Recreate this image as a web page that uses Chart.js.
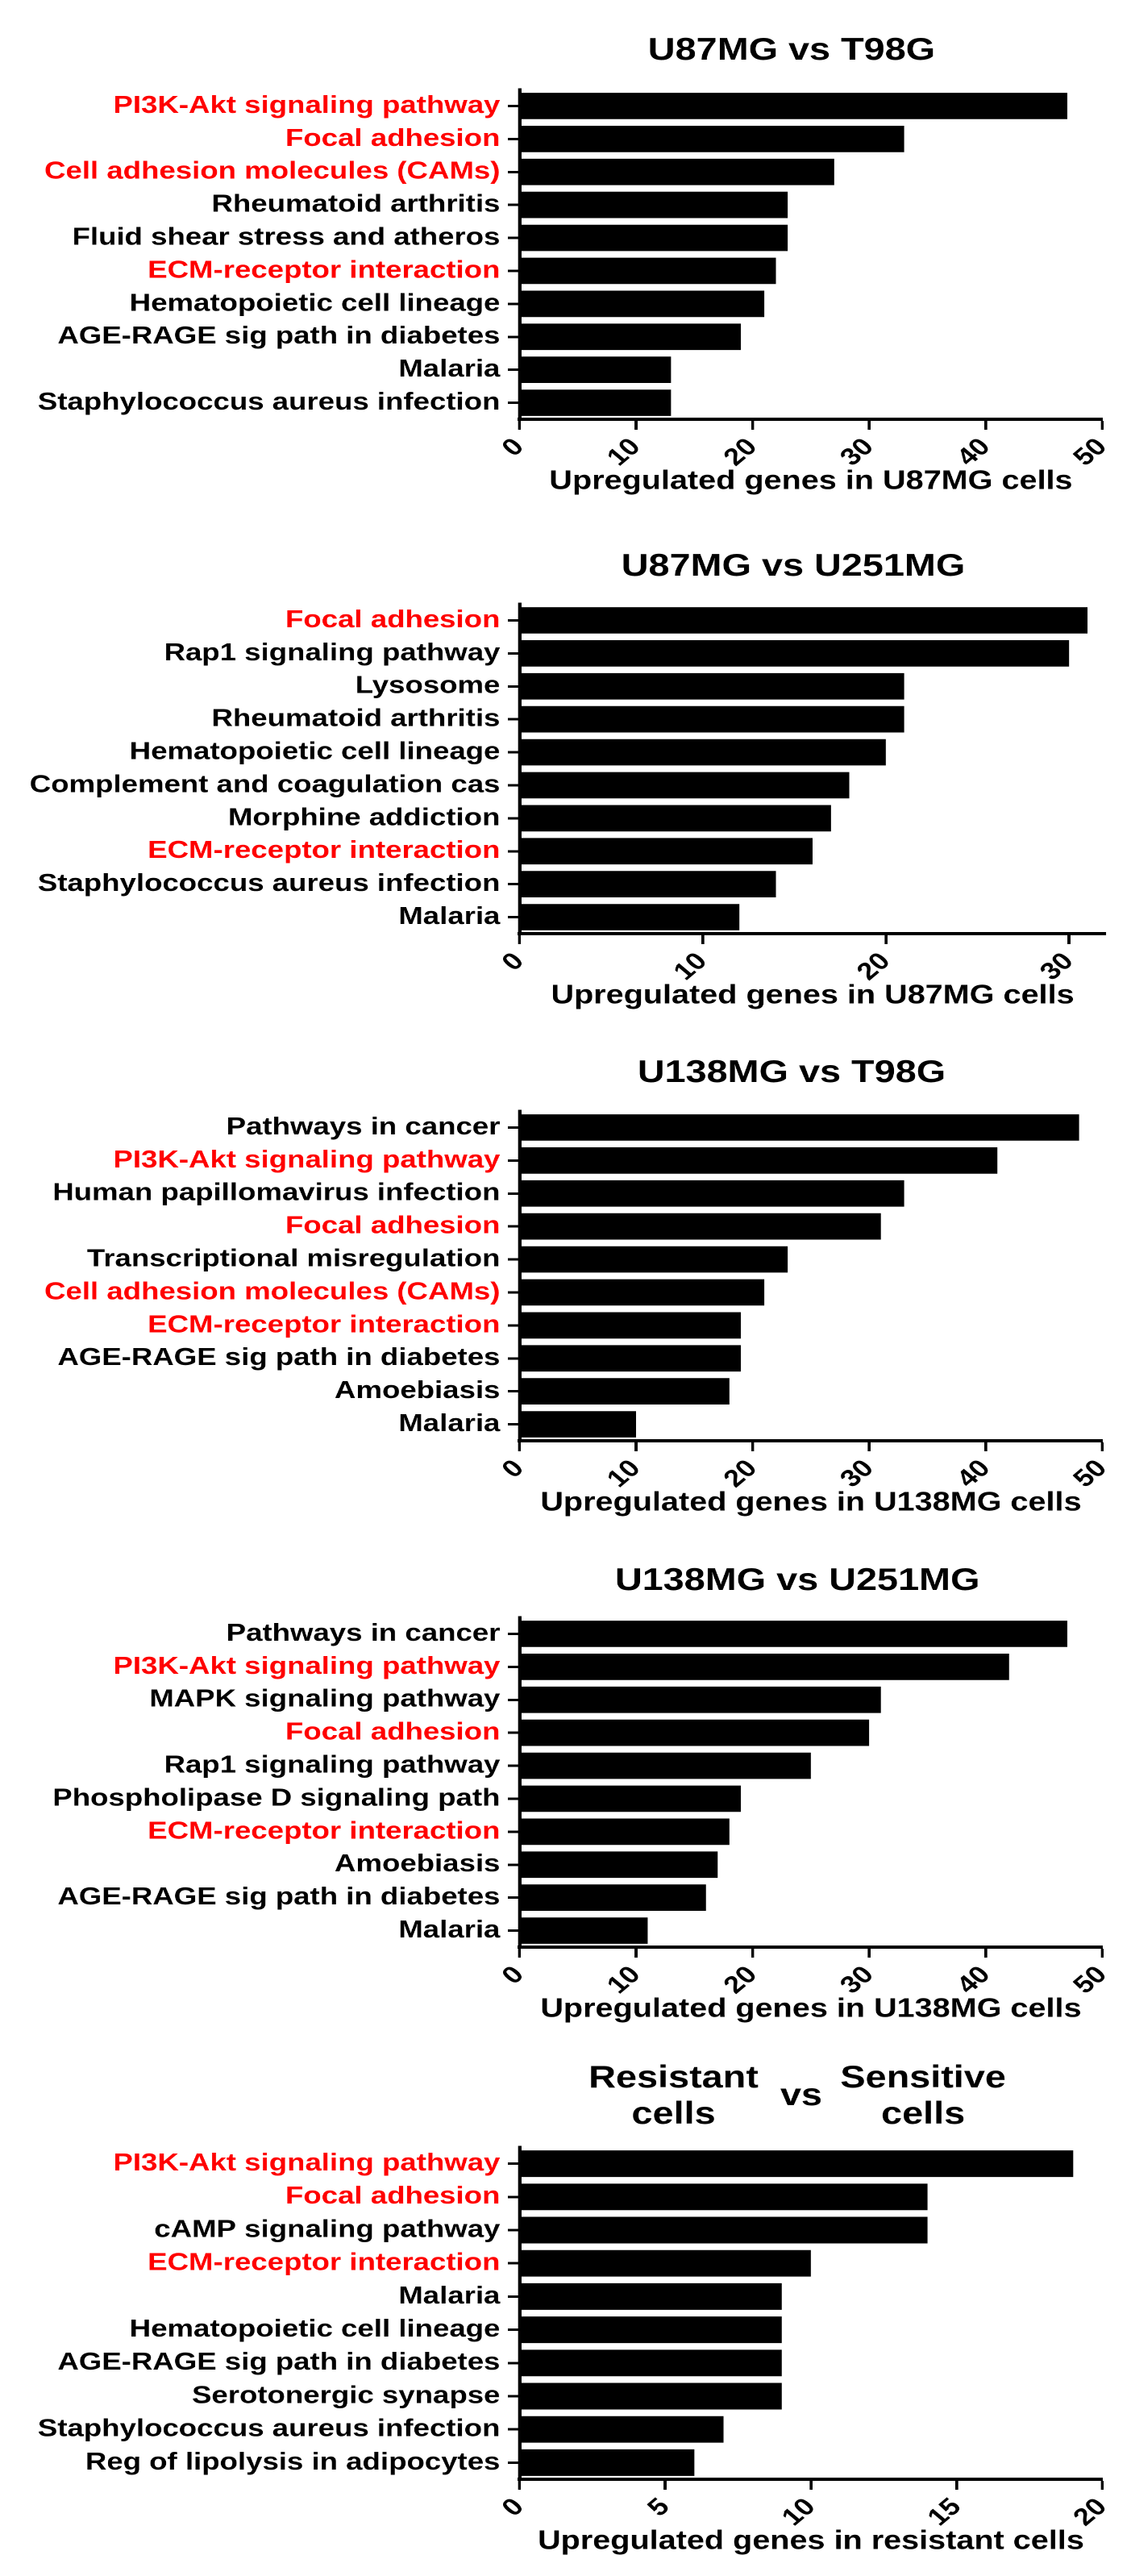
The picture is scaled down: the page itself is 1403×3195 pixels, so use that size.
<!DOCTYPE html>
<html>
<head>
<meta charset="utf-8">
<script src="https://cdn.jsdelivr.net/npm/chart.js@4.4.1/dist/chart.umd.min.js"></script>
<style>
  html, body { margin: 0; padding: 0; background: #fff; }
  body { position: relative; width: 1403px; height: 3195px; overflow: hidden; }
  .panel {
    position: absolute; left: 0; width: 1169px;
    transform: scaleX(1.2); transform-origin: 0 0;
  }
</style>
</head>
<body>
<div class="panel" style="top:0px;height:640px"><canvas id="c1"></canvas></div>
<div class="panel" style="top:638px;height:640px"><canvas id="c2"></canvas></div>
<div class="panel" style="top:1267px;height:640px"><canvas id="c3"></canvas></div>
<div class="panel" style="top:1895px;height:640px"><canvas id="c4"></canvas></div>
<div class="panel" style="top:2552px;height:643px"><canvas id="c5"></canvas></div>
<script>
'use strict';

// Pathways highlighted in red on every panel
const highlighted = [
  'PI3K-Akt signaling pathway',
  'Focal adhesion',
  'Cell adhesion molecules (CAMs)',
  'ECM-receptor interaction'
];

// U87MG vs T98G
const labels1 = ['PI3K-Akt signaling pathway', 'Focal adhesion', 'Cell adhesion molecules (CAMs)',
  'Rheumatoid arthritis', 'Fluid shear stress and atheros', 'ECM-receptor interaction',
  'Hematopoietic cell lineage', 'AGE-RAGE sig path in diabetes', 'Malaria',
  'Staphylococcus aureus infection'];
const values1 = [47, 33, 27, 23, 23, 22, 21, 19, 13, 13];

// U87MG vs U251MG
const labels2 = ['Focal adhesion', 'Rap1 signaling pathway', 'Lysosome', 'Rheumatoid arthritis',
  'Hematopoietic cell lineage', 'Complement and coagulation cas', 'Morphine addiction',
  'ECM-receptor interaction', 'Staphylococcus aureus infection', 'Malaria'];
const values2 = [31, 30, 21, 21, 20, 18, 17, 16, 14, 12];

// U138MG vs T98G
const labels3 = ['Pathways in cancer', 'PI3K-Akt signaling pathway', 'Human papillomavirus infection',
  'Focal adhesion', 'Transcriptional misregulation', 'Cell adhesion molecules (CAMs)',
  'ECM-receptor interaction', 'AGE-RAGE sig path in diabetes', 'Amoebiasis', 'Malaria'];
const values3 = [48, 41, 33, 31, 23, 21, 19, 19, 18, 10];

// U138MG vs U251MG
const labels4 = ['Pathways in cancer', 'PI3K-Akt signaling pathway', 'MAPK signaling pathway',
  'Focal adhesion', 'Rap1 signaling pathway', 'Phospholipase D signaling path',
  'ECM-receptor interaction', 'Amoebiasis', 'AGE-RAGE sig path in diabetes', 'Malaria'];
const values4 = [47, 42, 31, 30, 25, 19, 18, 17, 16, 11];

// Resistant vs Sensitive
const labels5 = ['PI3K-Akt signaling pathway', 'Focal adhesion', 'cAMP signaling pathway',
  'ECM-receptor interaction', 'Malaria', 'Hematopoietic cell lineage',
  'AGE-RAGE sig path in diabetes', 'Serotonergic synapse', 'Staphylococcus aureus infection',
  'Reg of lipolysis in adipocytes'];
const values5 = [19, 14, 14, 10, 9, 9, 9, 9, 7, 6];

// x axis ranges: [max, step]
const xRange1 = [50, 10];
const xRange2 = [32, 10];
const xRange3 = [50, 10];
const xRange4 = [50, 10];
const xRange5 = [20, 5];

const xTitle1 = 'Upregulated genes in U87MG cells';
const xTitle2 = 'Upregulated genes in U87MG cells';
const xTitle3 = 'Upregulated genes in U138MG cells';
const xTitle4 = 'Upregulated genes in U138MG cells';
const xTitle5 = 'Upregulated genes in resistant cells';

const FONT = '"Liberation Sans", Arial, Helvetica, sans-serif';
const RED = '#ff0000';

// Draws the panel heading above the plot area
const headingPlugin = {
  id: 'heading',
  afterDraw(chart, args, opts) {
    const { ctx, chartArea } = chart;
    const cx = (chartArea.left + chartArea.right) / 2;
    ctx.save();
    ctx.font = 'bold 39px ' + FONT;
    ctx.fillStyle = '#000';
    ctx.textAlign = 'center';
    ctx.textBaseline = 'middle';
    (opts.lines || []).forEach(l => ctx.fillText(l.text, cx + l.dx, chartArea.top + l.dy));
    ctx.restore();
  }
};

function makeChart(id, labels, values, range, xTitle, headingLines) {
  const canvas = document.getElementById(id);
  return new Chart(canvas, {
    type: 'bar',
    data: {
      labels: labels,
      datasets: [{
        data: values,
        backgroundColor: '#000',
        borderWidth: 0,
        barPercentage: 0.8,
        categoryPercentage: 1.0
      }]
    },
    plugins: [headingPlugin],
    options: {
      indexAxis: 'y',
      responsive: true,
      maintainAspectRatio: false,
      devicePixelRatio: 2,
      animation: false,
      layout: { padding: { top: 111, right: 26, bottom: 0, left: 0 } },
      plugins: {
        legend: { display: false },
        tooltip: { enabled: false },
        title: { display: false },
        heading: { lines: headingLines }
      },
      scales: {
        y: {
          afterFit(scale) { scale.width = 537; },
          grid: {
            drawOnChartArea: false,
            drawTicks: true,
            tickLength: 12,
            tickWidth: 3,
            tickColor: '#000',
            offset: false
          },
          border: { display: true, color: '#000', width: 3.5 },
          ticks: {
            autoSkip: false,
            padding: 8,
            color: c => highlighted.includes(labels[c.index]) ? RED : '#000',
            font: { family: FONT, size: 30.5, weight: 'bold' }
          }
        },
        x: {
          min: 0,
          max: range[0],
          afterFit(scale) { scale.height = 120; },
          grid: {
            drawOnChartArea: false,
            drawTicks: true,
            tickLength: 13,
            tickWidth: 3,
            tickColor: '#000'
          },
          border: { display: true, color: '#000', width: 4 },
          ticks: {
            stepSize: range[1],
            includeBounds: false,
            minRotation: 45,
            maxRotation: 45,
            padding: 4,
            color: '#000',
            font: { family: FONT, size: 30, weight: 'bold' }
          },
          title: {
            display: true,
            text: xTitle,
            color: '#000',
            font: { family: FONT, size: 33, weight: 'bold' },
            padding: { top: 0, bottom: 23 }
          }
        }
      }
    }
  });
}

makeChart('c1', labels1, values1, xRange1, xTitle1, [{ text: 'U87MG vs T98G', dx: -20, dy: -48 }]);
makeChart('c2', labels2, values2, xRange2, xTitle2, [{ text: 'U87MG vs U251MG', dx: -20, dy: -46 }]);
makeChart('c3', labels3, values3, xRange3, xTitle3, [{ text: 'U138MG vs T98G', dx: -20, dy: -47 }]);
makeChart('c4', labels4, values4, xRange4, xTitle4, [{ text: 'U138MG vs U251MG', dx: -14, dy: -45 }]);
makeChart('c5', labels5, values5, xRange5, xTitle5, [
  { text: 'Resistant', dx: -142, dy: -85 },
  { text: 'cells', dx: -142, dy: -40 },
  { text: 'vs', dx: -10, dy: -63 },
  { text: 'Sensitive', dx: 116, dy: -85 },
  { text: 'cells', dx: 116, dy: -40 }
]);
</script>
</body>
</html>
